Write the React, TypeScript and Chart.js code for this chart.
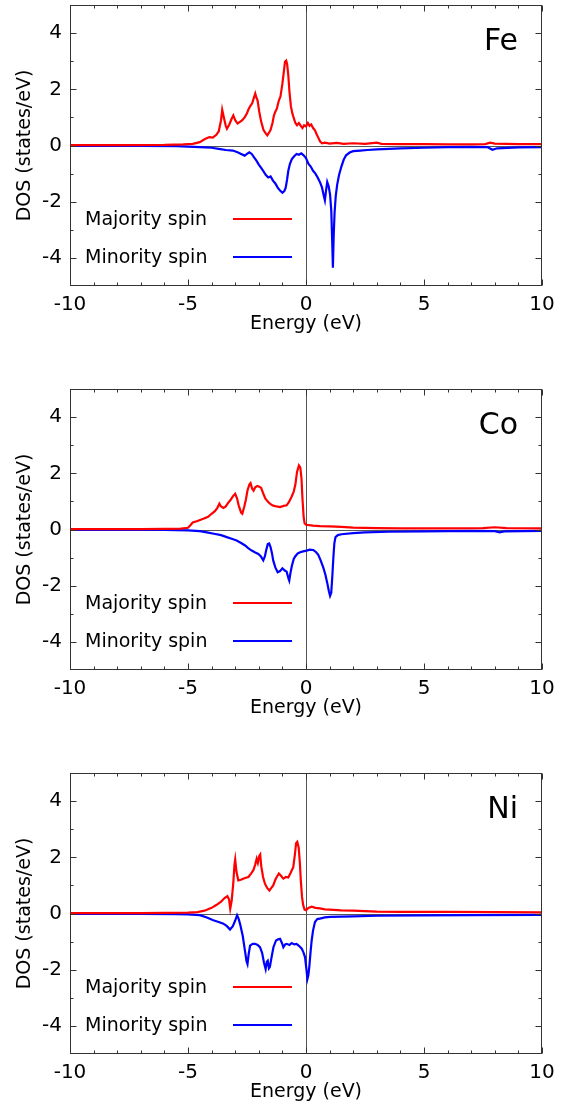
import React, { useEffect, useRef } from 'react';
import { Chart, registerables } from 'chart.js';

Chart.register(...registerables);

// ---------- axis ticks ----------
const xTicks = [-10, -5, 0, 5, 10];
const xMinorTicks = [-9, -8, -7, -6, -4, -3, -2, -1, 1, 2, 3, 4, 6, 7, 8, 9];
const yTicks = [-4, -2, 0, 2, 4];
const yMinorTicks = [-3, -1, 1, 3];
const xRange = [-10, 10];
const yRange = [-5, 5];

const elementNames = ['Fe', 'Co', 'Ni'];
const seriesLabels = ['Majority spin', 'Minority spin'];
const seriesColors = ['#ff0000', '#0000ff'];
const xTitle = 'Energy (eV)';
const yTitle = 'DOS (states/eV)';

// ---------- Fe ----------
const feUpE = [-10, -8, -6, -5.2, -4.8, -4.5, -4.3, -4.1, -3.95, -3.8, -3.7, -3.6, -3.55, -3.48, -3.4, -3.35, -3.25, -3.15, -3.08, -3.0, -2.9, -2.8, -2.7, -2.6, -2.5, -2.44, -2.35, -2.28, -2.2, -2.15, -2.1, -2.05, -1.98, -1.9, -1.8, -1.7, -1.64, -1.55, -1.5, -1.42, -1.36, -1.3, -1.24, -1.15, -1.08, -1.0, -0.95, -0.89, -0.84, -0.8, -0.75, -0.7, -0.64, -0.58, -0.52, -0.45, -0.38, -0.3, -0.22, -0.15, -0.08, 0.0, 0.08, 0.15, 0.22, 0.3, 0.38, 0.45, 0.52, 0.6, 0.68, 0.8, 1.0, 1.3, 1.6, 2.0, 2.5, 3.0, 3.2, 4, 5, 6, 7, 7.6, 7.8, 8.0, 9, 10];
const feUpDos = [0.01, 0.01, 0.02, 0.04, 0.06, 0.12, 0.22, 0.3, 0.28, 0.38, 0.5, 0.9, 1.27, 1.0, 0.7, 0.6, 0.75, 0.95, 1.07, 0.9, 0.78, 0.84, 0.9, 1.0, 1.15, 1.28, 1.42, 1.5, 1.72, 1.85, 1.7, 1.6, 1.2, 0.85, 0.55, 0.42, 0.36, 0.48, 0.56, 0.8, 1.07, 1.2, 1.3, 1.6, 1.75, 2.2, 2.55, 2.98, 3.02, 2.9, 2.5, 1.9, 1.4, 1.15, 0.98, 0.8, 0.72, 0.8, 0.7, 0.62, 0.72, 0.68, 0.8, 0.7, 0.75, 0.62, 0.54, 0.4, 0.28, 0.14, 0.08, 0.1, 0.07, 0.09, 0.06, 0.08, 0.06, 0.1, 0.06, 0.05, 0.05, 0.04, 0.04, 0.05, 0.1, 0.07, 0.05, 0.05];
const feDnE = [-10, -7, -5.5, -5.0, -4.5, -4.0, -3.7, -3.4, -3.1, -2.9, -2.75, -2.6, -2.5, -2.4, -2.3, -2.2, -2.1, -2.0, -1.9, -1.8, -1.7, -1.6, -1.5, -1.4, -1.3, -1.2, -1.1, -1.0, -0.92, -0.86, -0.8, -0.75, -0.68, -0.6, -0.5, -0.4, -0.3, -0.2, -0.1, 0.0, 0.1, 0.2, 0.3, 0.4, 0.5, 0.6, 0.68, 0.75, 0.8, 0.85, 0.9, 0.96, 1.02, 1.07, 1.11, 1.14, 1.17, 1.21, 1.26, 1.32, 1.4, 1.5, 1.6, 1.7, 1.85, 2.0, 2.3, 2.6, 3.0, 3.5, 4, 5, 6, 7, 7.7, 7.9, 8.1, 9, 10];
const feDnDos = [-0.01, -0.01, -0.02, -0.04, -0.06, -0.08, -0.12, -0.16, -0.18, -0.24, -0.3, -0.36, -0.3, -0.24, -0.3, -0.42, -0.54, -0.68, -0.8, -0.92, -1.05, -1.14, -1.1, -1.25, -1.35, -1.5, -1.6, -1.68, -1.62, -1.5, -1.2, -0.9, -0.65, -0.48, -0.38, -0.3, -0.33, -0.28, -0.35, -0.45, -0.65, -0.75, -0.9, -1.0, -1.15, -1.32, -1.5, -1.78, -1.95, -1.6, -1.3, -1.45, -1.75, -2.3, -3.4, -4.35, -3.3, -2.4, -1.8, -1.4, -1.05, -0.75, -0.5, -0.35, -0.25, -0.2, -0.18, -0.16, -0.14, -0.12, -0.1, -0.08, -0.06, -0.05, -0.06, -0.15, -0.1, -0.07, -0.06];

// ---------- Co ----------
const coUpE = [-10, -7, -6, -5.3, -5.0, -4.9, -4.8, -4.6, -4.35, -4.15, -4.0, -3.85, -3.75, -3.67, -3.6, -3.5, -3.4, -3.3, -3.2, -3.1, -3.0, -2.92, -2.85, -2.75, -2.7, -2.62, -2.55, -2.48, -2.4, -2.35, -2.28, -2.22, -2.15, -2.06, -1.98, -1.9, -1.82, -1.72, -1.6, -1.5, -1.39, -1.25, -1.1, -0.95, -0.82, -0.72, -0.62, -0.52, -0.45, -0.38, -0.3, -0.24, -0.19, -0.15, -0.1, -0.06, 0.0, 0.3, 0.6, 1.0, 1.5, 2.0, 3, 4, 6, 7.5, 8, 8.5, 10];
const coUpDos = [0.01, 0.01, 0.02, 0.03, 0.06, 0.15, 0.25, 0.3, 0.38, 0.45, 0.56, 0.66, 0.78, 0.92, 0.82, 0.77, 0.82, 0.95, 1.05, 1.18, 1.27, 1.1, 0.85, 0.6, 0.56, 0.8, 1.05, 1.39, 1.6, 1.65, 1.45, 1.38, 1.5, 1.55, 1.52, 1.48, 1.3, 1.1, 0.98, 0.9, 0.85, 0.82, 0.8, 0.84, 0.86, 0.98, 1.15, 1.35, 1.6, 2.05, 2.28, 2.2, 1.8, 1.1, 0.45, 0.22, 0.17, 0.14, 0.12, 0.11, 0.09, 0.07, 0.05, 0.04, 0.04, 0.05, 0.08, 0.05, 0.04];
const coDnE = [-10, -6, -5.5, -5.0, -4.5, -4.2, -3.9, -3.6, -3.36, -3.15, -2.94, -2.75, -2.58, -2.45, -2.3, -2.15, -2.02, -1.92, -1.81, -1.74, -1.69, -1.62, -1.56, -1.5, -1.44, -1.39, -1.3, -1.2, -1.1, -1.0, -0.9, -0.82, -0.74, -0.71, -0.66, -0.6, -0.52, -0.45, -0.35, -0.25, -0.12, 0.03, 0.15, 0.31, 0.42, 0.52, 0.62, 0.73, 0.82, 0.9, 0.97, 1.02, 1.07, 1.12, 1.16, 1.2, 1.25, 1.35, 1.5, 2.0, 2.5, 3.5, 5, 7, 8.0, 8.2, 8.4, 10];
const coDnDos = [-0.01, -0.01, -0.02, -0.03, -0.06, -0.1, -0.15, -0.2, -0.27, -0.33, -0.39, -0.48, -0.57, -0.66, -0.75, -0.82, -0.87, -0.95, -1.1, -0.95, -0.75, -0.52, -0.5, -0.63, -0.85, -1.1, -1.35, -1.52, -1.48, -1.38, -1.46, -1.5, -1.75, -1.82, -1.55, -1.3, -1.05, -0.95, -0.85, -0.81, -0.78, -0.75, -0.72, -0.73, -0.8, -0.9, -1.1, -1.35, -1.6, -1.9, -2.2, -2.36, -2.25, -1.6, -0.99, -0.5, -0.27, -0.2, -0.17, -0.13, -0.1, -0.08, -0.07, -0.05, -0.06, -0.1, -0.07, -0.05];

// ---------- Ni ----------
const niUpE = [-10, -7, -6, -5.0, -4.6, -4.3, -4.0, -3.8, -3.6, -3.45, -3.33, -3.26, -3.21, -3.15, -3.08, -3.03, -3.0, -2.95, -2.87, -2.76, -2.66, -2.55, -2.44, -2.33, -2.23, -2.15, -2.09, -2.04, -1.98, -1.94, -1.9, -1.82, -1.74, -1.64, -1.55, -1.46, -1.39, -1.3, -1.24, -1.15, -1.07, -0.96, -0.85, -0.75, -0.65, -0.54, -0.47, -0.42, -0.37, -0.31, -0.26, -0.22, -0.17, -0.12, -0.06, 0.0, 0.1, 0.24, 0.4, 0.59, 0.8, 1.0, 1.5, 2.0, 3, 4, 6, 8, 10];
const niUpDos = [0.01, 0.01, 0.02, 0.03, 0.05, 0.1, 0.2, 0.3, 0.42, 0.55, 0.62, 0.5, 0.17, 0.45, 1.1, 1.75, 1.92, 1.5, 1.18, 1.2, 1.24, 1.27, 1.3, 1.42, 1.54, 1.75, 1.95, 1.8, 2.05, 2.1, 1.7, 1.3, 1.06, 0.9, 0.82, 0.92, 1.0, 1.2, 1.3, 1.42, 1.35, 1.24, 1.3, 1.28, 1.45, 1.65, 2.1, 2.5, 2.55, 2.35, 1.8, 1.18, 0.6, 0.3, 0.14, 0.12, 0.2, 0.24, 0.2, 0.18, 0.15, 0.14, 0.11, 0.1, 0.07, 0.06, 0.06, 0.05, 0.04];
const niDnE = [-10, -7, -5.5, -5.0, -4.5, -4.2, -3.93, -3.7, -3.5, -3.35, -3.22, -3.1, -3.0, -2.92, -2.85, -2.78, -2.68, -2.6, -2.52, -2.48, -2.43, -2.37, -2.26, -2.16, -2.05, -1.95, -1.86, -1.78, -1.71, -1.66, -1.62, -1.57, -1.53, -1.46, -1.38, -1.27, -1.18, -1.1, -1.02, -0.96, -0.88, -0.82, -0.7, -0.61, -0.5, -0.4, -0.3, -0.18, -0.1, -0.04, 0.02, 0.06, 0.1, 0.14, 0.19, 0.24, 0.3, 0.38, 0.48, 0.59, 0.8, 1.02, 1.5, 2.0, 3, 5, 7, 10];
const niDnDos = [-0.01, -0.01, -0.02, -0.03, -0.06, -0.14, -0.24, -0.3, -0.36, -0.45, -0.57, -0.45, -0.25, -0.06, -0.2, -0.42, -0.8, -1.25, -1.7, -1.8, -1.45, -1.14, -1.08, -1.08, -1.12, -1.2, -1.4, -1.75, -1.98, -1.72, -1.68, -1.95, -1.9, -1.56, -1.2, -0.96, -0.92, -0.9, -1.05, -1.2, -1.1, -1.08, -1.12, -1.05, -1.1, -1.08, -1.15, -1.25, -1.4, -1.56, -2.0, -2.33, -2.2, -1.9, -1.4, -0.96, -0.6, -0.3, -0.2, -0.18, -0.14, -0.12, -0.11, -0.1, -0.08, -0.07, -0.06, -0.05];

const FONT = 'DejaVu Sans';

const framePlugin = {
  id: 'frame',
  beforeDatasetsDraw(chart: any) {
    const { ctx, chartArea: a, scales } = chart;
    const x = scales.x, y = scales.y;
    ctx.save();
    ctx.strokeStyle = '#555';
    ctx.lineWidth = 1;
    const y0 = Math.round(y.getPixelForValue(0)) + 0.5;
    const x0 = Math.round(x.getPixelForValue(0)) + 0.5;
    ctx.beginPath();
    ctx.moveTo(a.left, y0);
    ctx.lineTo(a.right, y0);
    ctx.moveTo(x0, a.top);
    ctx.lineTo(x0, a.bottom);
    ctx.stroke();
    ctx.restore();
  },
  afterDraw(chart: any, _args: any, opts: any) {
    const { ctx, chartArea: a, scales } = chart;
    const x = scales.x, y = scales.y;
    ctx.save();
    ctx.strokeStyle = '#333';
    ctx.lineWidth = 1;
    const L = Math.round(a.left) + 0.5, R = Math.round(a.right) - 0.5;
    const T = Math.round(a.top) + 0.5, B = Math.round(a.bottom) - 0.5;
    ctx.strokeRect(L, T, R - L, B - T);
    ctx.beginPath();
    const major = 6, minor = 3;
    const xt = (v: number, len: number) => {
      const p = Math.round(x.getPixelForValue(v)) + 0.5;
      ctx.moveTo(p, B); ctx.lineTo(p, B - len);
      ctx.moveTo(p, T); ctx.lineTo(p, T + len);
    };
    const yt = (v: number, len: number) => {
      const p = Math.round(y.getPixelForValue(v)) + 0.5;
      ctx.moveTo(L, p); ctx.lineTo(L + len, p);
      ctx.moveTo(R, p); ctx.lineTo(R - len, p);
    };
    xTicks.forEach((v) => xt(v, major));
    xMinorTicks.forEach((v) => xt(v, minor));
    yTicks.forEach((v) => yt(v, major));
    yMinorTicks.forEach((v) => yt(v, minor));
    ctx.stroke();

    // legend
    ctx.font = `19px "${FONT}"`;
    ctx.textAlign = 'left';
    ctx.textBaseline = 'middle';
    const rows = [a.top + 214, a.top + 252];
    seriesLabels.forEach((lab, i) => {
      ctx.fillStyle = '#000';
      ctx.fillText(lab, a.left + 15, rows[i] + 1);
      ctx.strokeStyle = seriesColors[i];
      ctx.lineWidth = 2;
      ctx.beginPath();
      ctx.moveTo(a.left + 163, rows[i]);
      ctx.lineTo(a.left + 222, rows[i]);
      ctx.stroke();
    });

    // element label
    ctx.font = `30px "${FONT}"`;
    ctx.fillStyle = '#000';
    ctx.textAlign = 'right';
    ctx.fillText(opts.label, a.right - 24, a.top + 37);
    ctx.restore();
  },
};

function toPoints(e: number[], d: number[]) {
  return e.map((v, i) => ({ x: v, y: d[i] }));
}

function Panel(props: { name: string; upE: number[]; upDos: number[]; dnE: number[]; dnDos: number[] }) {
  const ref = useRef<HTMLCanvasElement>(null);
  useEffect(() => {
    if (!ref.current) return;
    const chart = new Chart(ref.current, {
      type: 'line',
      data: {
        datasets: [
          {
            label: seriesLabels[0],
            data: toPoints(props.upE, props.upDos),
            borderColor: seriesColors[0],
            borderWidth: 2.2,
            pointRadius: 0,
            tension: 0,
            fill: false,
          },
          {
            label: seriesLabels[1],
            data: toPoints(props.dnE, props.dnDos),
            borderColor: seriesColors[1],
            borderWidth: 2.2,
            pointRadius: 0,
            tension: 0,
            fill: false,
          },
        ],
      },
      plugins: [framePlugin],
      options: {
        animation: false,
        responsive: false,
        maintainAspectRatio: false,
        layout: { padding: { top: 5, right: 28, left: 0, bottom: 0 } },
        plugins: {
          legend: { display: false },
          tooltip: { enabled: false },
          frame: { label: props.name },
        } as any,
        scales: {
          x: {
            type: 'linear',
            min: xRange[0],
            max: xRange[1],
            grid: { display: false, drawTicks: false },
            border: { display: false },
            afterBuildTicks: (s: any) => {
              s.ticks = xTicks.map((v) => ({ value: v }));
            },
            afterFit: (s: any) => {
              s.height = 98;
              s.paddingLeft = 0;
              s.paddingRight = 0;
            },
            ticks: {
              autoSkip: false,
              maxRotation: 0,
              padding: 7,
              color: '#000',
              font: { family: FONT, size: 20 },
              callback: (v: any) => String(v),
            },
            title: {
              display: true,
              text: xTitle,
              color: '#000',
              font: { family: FONT, size: 19 },
              padding: { top: 0, bottom: 49 },
            },
          },
          y: {
            type: 'linear',
            min: yRange[0],
            max: yRange[1],
            grid: { display: false, drawTicks: false },
            border: { display: false },
            afterBuildTicks: (s: any) => {
              s.ticks = yTicks.map((v) => ({ value: v }));
            },
            afterFit: (s: any) => {
              s.width = 70;
              s.paddingTop = 0;
              s.paddingBottom = 0;
            },
            ticks: {
              autoSkip: false,
              padding: 8,
              color: '#000',
              font: { family: FONT, size: 20 },
              callback: (v: any) => String(v),
            },
            title: {
              display: true,
              text: yTitle,
              color: '#000',
              font: { family: FONT, size: 19 },
              padding: { top: 14, bottom: 0 },
            },
          },
        },
      } as any,
    });
    return () => chart.destroy();
  }, []);
  return <canvas ref={ref} width={570} height={384} style={{ display: 'block', width: 570, height: 384 }} />;
}

export default function App() {
  return (
    <div style={{ position: 'absolute', left: 0, top: 0, width: 570, background: '#fff' }}>
      <Panel name={elementNames[0]} upE={feUpE} upDos={feUpDos} dnE={feDnE} dnDos={feDnDos} />
      <Panel name={elementNames[1]} upE={coUpE} upDos={coUpDos} dnE={coDnE} dnDos={coDnDos} />
      <Panel name={elementNames[2]} upE={niUpE} upDos={niUpDos} dnE={niDnE} dnDos={niDnDos} />
    </div>
  );
}
